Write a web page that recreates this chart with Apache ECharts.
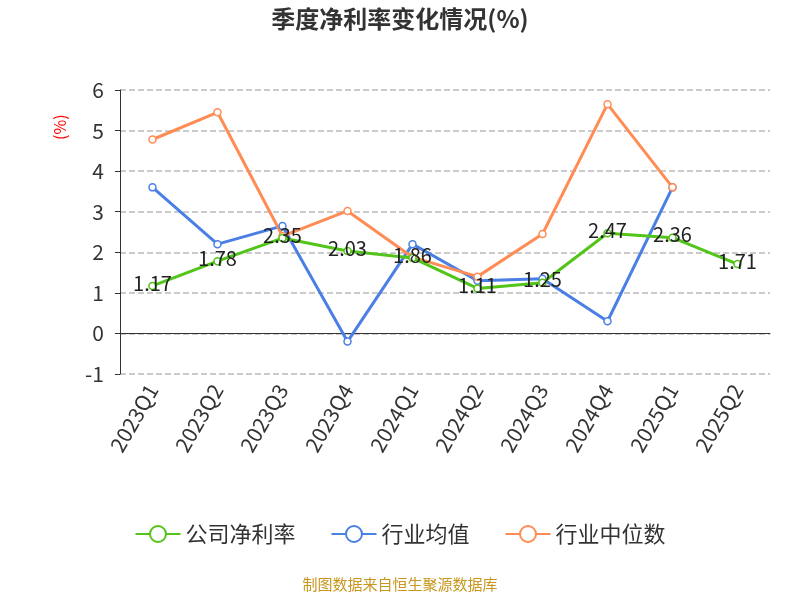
<!DOCTYPE html>
<html><head><meta charset="utf-8">
<script src="https://cdn.jsdelivr.net/npm/echarts@6/dist/echarts.min.js"></script>
<style>body{margin:0}#c{width:800px;height:600px}</style></head>
<body><div id="c"></div>
<script>
const categories=['2023Q1','2023Q2','2023Q3','2023Q4','2024Q1','2024Q2','2024Q3','2024Q4','2025Q1','2025Q2'];
const company=[1.17,1.78,2.35,2.03,1.86,1.11,1.25,2.47,2.36,1.71];
const industryAvg=[3.6,2.2,2.65,-0.2,2.2,1.3,1.35,0.3,3.6,null];
const industryMedian=[4.78,5.45,2.4,3.02,1.88,1.4,2.45,5.65,3.6,null];
const yTicks={min:-1,max:6,interval:1};
const F='Noto Sans CJK SC';
const chart=echarts.init(document.getElementById('c'));
const ser=(name,data,color,label)=>({name,type:'line',data,symbol:'circle',symbolSize:7,
  itemStyle:{color:'#fff',borderColor:color,borderWidth:1.5},lineStyle:{color,width:3},
  label:{show:label,position:'inside',offset:[0,-3],fontSize:20,fontFamily:F,color:'#222',formatter:p=>p.value.toFixed(2)},z:label?3:2});
chart.setOption({
  textStyle:{fontFamily:F},
  title:{text:'季度净利率变化情况(%)',left:'center',top:2,textStyle:{fontSize:24,fontWeight:'bold',color:'#333',fontFamily:F}},
  grid:{left:120,right:30,top:90,bottom:226},
  xAxis:{type:'category',data:categories,boundaryGap:true,
    axisLine:{lineStyle:{color:'#333'}},axisTick:{lineStyle:{color:'#333'}},
    axisLabel:{rotate:60,fontSize:21,color:'#333',margin:12,fontFamily:F}},
  yAxis:{type:'value',min:yTicks.min,max:yTicks.max,interval:yTicks.interval,
    axisLine:{show:true,lineStyle:{color:'#333'}},axisTick:{show:true},
    axisLabel:{fontSize:21,color:'#333',margin:16,fontFamily:F},
    splitLine:{lineStyle:{type:'dashed',color:'#bbb',width:1.5}}},
  legend:{bottom:50,itemWidth:45,itemHeight:20,itemGap:35,textStyle:{fontSize:22,color:'#333',fontFamily:F},
    data:[{name:'公司净利率',itemStyle:{color:'#fff',borderColor:'#52c41a'}},
          {name:'行业均值',itemStyle:{color:'#fff',borderColor:'#4a7fe6'}},
          {name:'行业中位数',itemStyle:{color:'#fff',borderColor:'#ff8c55'}}]},
  graphic:[{type:'text',left:'center',bottom:8,style:{text:'制图数据来自恒生聚源数据库',fontSize:15,fill:'#c8961e',fontFamily:F}},
    {type:'text',x:52,y:140,rotation:Math.PI/2,style:{text:'(%)',fontSize:16,fill:'red',fontFamily:F}}],
  series:[ser('行业均值',industryAvg,'#4a7fe6',false),
          ser('行业中位数',industryMedian,'#ff8c55',false),
          ser('公司净利率',company,'#52c41a',true)]
});
</script></body></html>
